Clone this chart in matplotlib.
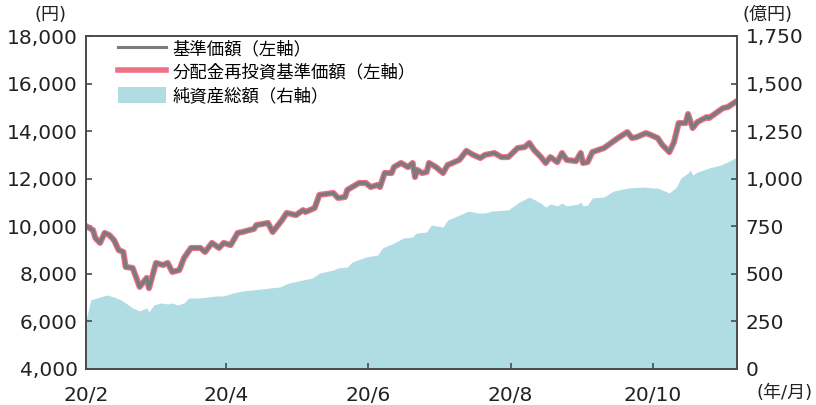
import matplotlib.pyplot as plt
import matplotlib.ticker as mticker
import matplotlib.patches as mpatches
from matplotlib.lines import Line2D
import pandas as pd

plt.rcParams["font.family"] = ["DejaVu Sans", "Noto Sans CJK JP"]

GRAY = "#7b7b7f"
PINK = "#ef6f84"
TEAL = "#b0dde3"
AXIS = "#4a4a4a"

nav_dates = [
    "2020-02-01", "2020-02-04", "2020-02-05", "2020-02-07", "2020-02-09", "2020-02-11",
    "2020-02-13", "2020-02-15", "2020-02-17", "2020-02-18", "2020-02-21", "2020-02-24",
    "2020-02-27", "2020-02-28", "2020-03-02", "2020-03-05", "2020-03-07", "2020-03-09",
    "2020-03-12", "2020-03-14", "2020-03-17", "2020-03-21", "2020-03-23", "2020-03-26",
    "2020-03-29", "2020-03-31", "2020-04-03", "2020-04-06", "2020-04-08", "2020-04-13",
    "2020-04-14", "2020-04-19", "2020-04-21", "2020-04-25", "2020-04-27", "2020-05-01",
    "2020-05-04", "2020-05-05", "2020-05-09", "2020-05-11", "2020-05-17", "2020-05-19",
    "2020-05-22", "2020-05-23", "2020-05-28", "2020-05-31", "2020-06-02", "2020-06-05",
    "2020-06-06", "2020-06-08", "2020-06-11", "2020-06-12", "2020-06-15", "2020-06-18",
    "2020-06-20", "2020-06-21", "2020-06-22", "2020-06-24", "2020-06-26", "2020-06-27",
    "2020-06-30", "2020-07-03", "2020-07-05", "2020-07-07", "2020-07-10", "2020-07-13",
    "2020-07-16", "2020-07-19", "2020-07-21", "2020-07-25", "2020-07-28", "2020-07-31",
    "2020-08-04", "2020-08-07", "2020-08-09", "2020-08-11", "2020-08-14", "2020-08-16",
    "2020-08-18", "2020-08-21", "2020-08-23", "2020-08-25", "2020-08-29", "2020-08-31",
    "2020-09-01", "2020-09-03", "2020-09-05", "2020-09-10", "2020-09-13", "2020-09-16",
    "2020-09-20", "2020-09-22", "2020-09-24", "2020-09-28", "2020-09-30", "2020-10-03",
    "2020-10-05", "2020-10-08", "2020-10-10", "2020-10-12", "2020-10-15", "2020-10-16",
    "2020-10-18", "2020-10-20", "2020-10-24", "2020-10-25", "2020-10-28", "2020-10-31",
    "2020-11-02", "2020-11-06",
]
nav_values = [
    10010, 9840, 9510, 9300, 9720, 9630,
    9420, 9000, 8920, 8290, 8250, 7450,
    7830, 7400, 8460, 8370, 8460, 8080,
    8160, 8670, 9090, 9090, 8920, 9300,
    9090, 9300, 9210, 9720, 9760, 9890,
    10050, 10140, 9760, 10260, 10560, 10470,
    10680, 10600, 10770, 11320, 11400, 11190,
    11230, 11530, 11820, 11820, 11650, 11740,
    11650, 12240, 12240, 12490, 12660, 12490,
    12660, 12070, 12370, 12240, 12280, 12660,
    12490, 12240, 12580, 12660, 12790, 13170,
    13000, 12870, 13000, 13080, 12910, 12910,
    13290, 13330, 13500, 13210, 12910, 12660,
    12910, 12700, 13080, 12790, 12740, 13080,
    12660, 12700, 13120, 13290, 13500, 13710,
    13960, 13710, 13750, 13920, 13840, 13710,
    13420, 13120, 13540, 14340, 14340, 14720,
    14130, 14380, 14590, 14550, 14760, 14970,
    15010, 15270,
]
# no distributions were paid, so the reinvested series equals the NAV
reinvested_values = list(nav_values)

aum_dates = [
    "2020-02-01", "2020-02-03", "2020-02-07", "2020-02-10", "2020-02-13", "2020-02-16",
    "2020-02-18", "2020-02-21", "2020-02-24", "2020-02-27", "2020-02-28", "2020-03-01",
    "2020-03-04", "2020-03-07", "2020-03-09", "2020-03-11", "2020-03-14", "2020-03-16",
    "2020-03-20", "2020-03-24", "2020-03-28", "2020-03-31", "2020-04-04", "2020-04-08",
    "2020-04-16", "2020-04-20", "2020-04-24", "2020-04-28", "2020-05-04", "2020-05-08",
    "2020-05-11", "2020-05-17", "2020-05-19", "2020-05-23", "2020-05-25", "2020-05-31",
    "2020-06-05", "2020-06-07", "2020-06-12", "2020-06-16", "2020-06-20", "2020-06-21",
    "2020-06-22", "2020-06-26", "2020-06-28", "2020-07-03", "2020-07-05", "2020-07-10",
    "2020-07-14", "2020-07-18", "2020-07-21", "2020-07-24", "2020-07-31", "2020-08-04",
    "2020-08-09", "2020-08-14", "2020-08-16", "2020-08-18", "2020-08-21", "2020-08-23",
    "2020-08-25", "2020-08-30", "2020-08-31", "2020-09-01", "2020-09-03", "2020-09-05",
    "2020-09-10", "2020-09-14", "2020-09-20", "2020-09-27", "2020-10-01", "2020-10-03",
    "2020-10-08", "2020-10-11", "2020-10-13", "2020-10-16", "2020-10-17", "2020-10-18",
    "2020-10-20", "2020-10-25", "2020-10-30", "2020-11-02", "2020-11-06",
]
aum_values = [
    257, 363, 378, 389, 378, 363,
    347, 321, 305, 321, 300, 336,
    347, 342, 347, 336, 347, 373,
    373, 378, 384, 384, 399, 410,
    420, 426, 431, 452, 468, 478,
    504, 520, 531, 536, 562, 589,
    599, 636, 662, 688, 694, 709,
    715, 720, 757, 746, 783, 809,
    830, 820, 820, 830, 836, 872,
    904, 872, 851, 867, 857, 872,
    857, 867, 878, 857, 862, 899,
    904, 935, 951, 956, 951, 951,
    925, 956, 1004, 1030, 1046, 1019,
    1035, 1056, 1072, 1088, 1114,
]

x_ticks = ["2020-02-01", "2020-04-01", "2020-06-01", "2020-08-01", "2020-10-01"]
x_tick_labels = ["20/2", "20/4", "20/6", "20/8", "20/10"]
left_ticks = list(range(4000, 18001, 2000))
right_ticks = list(range(0, 1751, 250))
labels = ["基準価額（左軸）", "分配金再投資基準価額（左軸）", "純資産総額（右軸）"]


fig = plt.figure(figsize=(8.16, 4.05), dpi=100)
ax = fig.add_axes([86 / 816, 1 - 369 / 405, 651 / 816, 333 / 405])
ax2 = ax.twinx()
ax.set_zorder(ax2.get_zorder() + 1)
ax.patch.set_visible(False)

ax2.fill_between(pd.to_datetime(aum_dates), 0, aum_values, color=TEAL, linewidth=0)
ax.plot(pd.to_datetime(nav_dates), reinvested_values, color=PINK, linewidth=4.4,
        solid_joinstyle="round", solid_capstyle="round")
ax.plot(pd.to_datetime(nav_dates), nav_values, color=GRAY, linewidth=2.6,
        solid_joinstyle="round", solid_capstyle="round")

ax.set_xlim(pd.Timestamp("2020-02-01"), pd.Timestamp("2020-11-06"))
ax.set_ylim(4000, 18000)
ax2.set_ylim(0, 1750)
ax.set_xticks(pd.to_datetime(x_ticks))
ax.set_xticklabels(x_tick_labels)
ax.set_yticks(left_ticks)
ax2.set_yticks(right_ticks)
comma = mticker.FuncFormatter(lambda v, _: f"{v:,.0f}")
ax.yaxis.set_major_formatter(comma)
ax2.yaxis.set_major_formatter(comma)

for a in (ax, ax2):
    for spine in a.spines.values():
        spine.set_color(AXIS)
        spine.set_linewidth(1.2)
    a.tick_params(direction="in", length=4.5, width=1.2, color=AXIS,
                  labelsize=14.5, labelcolor="#222222")
ax.tick_params(axis="y", pad=6)
ax2.tick_params(axis="y", pad=6)
ax.tick_params(axis="x", pad=12)

fig.text(51 / 816, 1 - 15 / 405, "(円)", ha="center", va="center", fontsize=13, color="#222222")
fig.text(768 / 816, 1 - 15 / 405, "(億円)", ha="center", va="center", fontsize=13, color="#222222")
fig.text(757 / 816, 1 - 393 / 405, "(年/月)", ha="left", va="center", fontsize=13, color="#222222")

handles = [
    Line2D([], [], color=GRAY, linewidth=2.2),
    Line2D([], [], color=PINK, linewidth=4.0),
    mpatches.Patch(color=TEAL, linewidth=0),
]
ax.legend(handles, labels, loc="upper left", bbox_to_anchor=(0.03, 1.025), frameon=False,
          fontsize=12.5, handlelength=2.8, handleheight=1.1, handletextpad=0.35,
          labelspacing=0.3, borderaxespad=0.3)

fig.savefig("out.png", dpi=100)
plt.close(fig)
